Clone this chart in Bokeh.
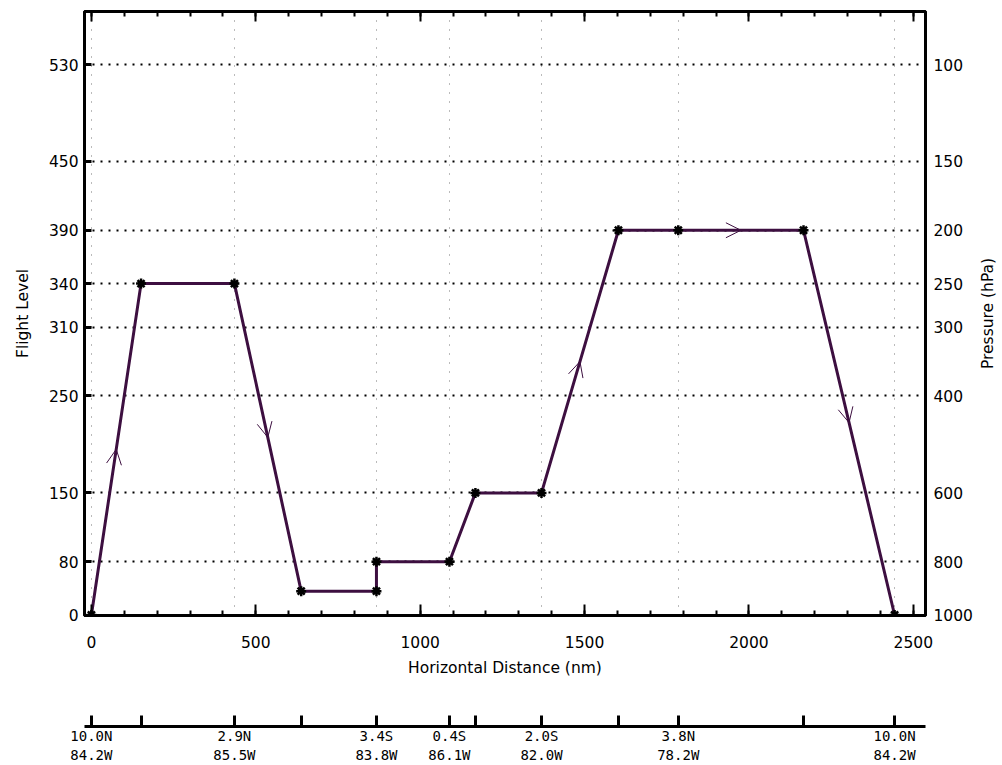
import math
from bokeh.plotting import figure
from bokeh.layouts import column, row
from bokeh.models import (Range1d, LinearAxis, LogAxis, FixedTicker, SingleIntervalTicker,
                          ColumnDataSource, Arrow, OpenHead, PrintfTickFormatter)
from bokeh.embed import file_html
from bokeh.resources import INLINE

# ---------------- data ----------------
# flight path waypoints: distance (nm), flight level, pressure level (hPa)
dist_nm = [0, 151, 435, 638, 867, 867, 1089, 1168, 1369, 1603, 1785, 2166, 2443]
flight_level = [0, 340, 340, 30, 30, 80, 80, 150, 150, 390, 390, 390, 0]
pressure_hpa = [1000, 250, 250, 905, 905, 800, 800, 600, 600, 200, 200, 200, 1000]
# segments (start index) that carry a direction arrow
arrow_segments = [0, 2, 8, 10, 11]

# vertical axis ticks: flight level labels and matching pressure levels
fl_tick_labels = ["0", "80", "150", "250", "310", "340", "390", "450", "530"]
pressure_ticks = [1000, 800, 600, 400, 300, 250, 200, 150, 100]

# waypoint axis (lat / lon)
wp_dist = [0, 151, 435, 638, 867, 1089, 1168, 1369, 1603, 1785, 2166, 2443]
labeled_dist = [0, 435, 867, 1089, 1369, 1785, 2443]
labeled_lat = ["10.0N", "2.9N", "3.4S", "0.4S", "2.0S", "3.8N", "10.0N"]
labeled_lon = ["84.2W", "85.5W", "83.8W", "86.1W", "82.0W", "78.2W", "84.2W"]

FONT = "DejaVu Sans"
MONO = "DejaVu Sans Mono"
FS = "15.5px"
PATH = "#3d0f40"

xr = Range1d(-21, 2537)
yr = Range1d(1002, 80.1)
p = figure(frame_width=841, frame_height=604,
           x_range=xr, y_range=yr,
           y_axis_type="log", output_backend="svg", toolbar_location=None,
           min_border_left=84, min_border_top=11, min_border_right=48,
           min_border_bottom=70, background_fill_color="white",
           border_fill_color="white")
p.outline_line_color = "black"
p.outline_line_width = 3

# ---- left axis (flight level) ----
ya = p.yaxis[0]
yt = FixedTicker(ticks=pressure_ticks, minor_ticks=[])
ya.ticker = yt
ya.major_label_overrides = {pr: lab for pr, lab in zip(pressure_ticks, fl_tick_labels)}
ya.major_tick_in = 7
ya.major_tick_out = 0
ya.minor_tick_in = 0
ya.minor_tick_out = 0
ya.major_tick_line_width = 3
ya.axis_line_width = 3
ya.major_label_standoff = 6
ya.major_label_text_font = FONT
ya.major_label_text_font_size = FS
ya.major_label_text_color = "black"
ya.axis_label = "Flight Level"
ya.axis_label_standoff = 14
ya.axis_label_text_font = FONT
ya.axis_label_text_font_size = FS
ya.axis_label_text_font_style = "normal"
ya.axis_label_text_color = "black"

# ---- right axis (pressure tick labels) ----
ra = LogAxis(ticker=FixedTicker(ticks=pressure_ticks, minor_ticks=[]),
             formatter=PrintfTickFormatter(format="%d"),
             major_tick_in=0, major_tick_out=0, minor_tick_in=0, minor_tick_out=0,
             axis_line_width=3, major_label_standoff=8,
             major_label_text_font=FONT, major_label_text_font_size=FS,
             major_label_text_color="black")
p.add_layout(ra, "right")

# ---- bottom axis (distance) ----
xticker = SingleIntervalTicker(interval=500, num_minor_ticks=5)
xa = p.xaxis[0]
xa.ticker = xticker
xa.major_tick_in = 11
xa.major_tick_out = 0
xa.minor_tick_in = 5
xa.minor_tick_out = 0
xa.major_tick_line_width = 2
xa.minor_tick_line_width = 2
xa.axis_line_width = 3
xa.major_label_standoff = 20
xa.major_label_text_font = FONT
xa.major_label_text_font_size = FS
xa.major_label_text_color = "black"
xa.axis_label = "Horizontal Distance (nm)"
xa.axis_label_standoff = 8
xa.axis_label_text_font = FONT
xa.axis_label_text_font_size = FS
xa.axis_label_text_font_style = "normal"
xa.axis_label_text_color = "black"

# ---- top axis (ticks only) ----
ta = LinearAxis(ticker=xticker, major_tick_in=10, major_tick_out=0,
                minor_tick_in=5, minor_tick_out=0, major_tick_line_width=2,
                minor_tick_line_width=2, axis_line_width=3,
                major_label_text_color=None, major_label_standoff=0)
p.add_layout(ta, "above")

# ---- grids ----
p.ygrid.ticker = yt
p.ygrid.grid_line_color = "black"
p.ygrid.grid_line_width = 2
p.ygrid.grid_line_dash = "2 6"
p.xgrid.ticker = FixedTicker(ticks=labeled_dist, minor_ticks=[])
p.xgrid.grid_line_color = "#777777"
p.xgrid.grid_line_width = 1
p.xgrid.grid_line_dash = "1 8"

# ---- flight path ----
src = ColumnDataSource(dict(x=dist_nm, p=pressure_hpa, fl=flight_level))
p.line("x", "p", source=src, line_color=PATH, line_width=3)
p.scatter("x", "p", source=src, marker="asterisk", size=10, line_color="black",
          line_width=2.5)

# direction arrows at the (screen) middle of chosen segments
xs = [dist_nm[i] for i in arrow_segments]
ys = [pressure_hpa[i] for i in arrow_segments]
xe = [(dist_nm[i] + dist_nm[i + 1]) / 2 for i in arrow_segments]
ye = [math.sqrt(pressure_hpa[i] * pressure_hpa[i + 1]) for i in arrow_segments]
asrc = ColumnDataSource(dict(xs=xs, ys=ys, xe=xe, ye=ye))
p.add_layout(Arrow(source=asrc, x_start="xs", y_start="ys", x_end="xe", y_end="ye",
                   line_alpha=0,
                   end=OpenHead(size=15, line_color=PATH, line_width=1)))

# ---- waypoint (lat/lon) axis in a strip below ----
p2 = figure(frame_width=841, frame_height=1, x_range=xr, y_range=Range1d(0, 1),
            output_backend="svg", toolbar_location=None,
            min_border_left=84, min_border_top=40, min_border_right=48,
            min_border_bottom=0, background_fill_color="white",
            border_fill_color="white")
p2.outline_line_color = None
p2.grid.visible = False
p2.yaxis.visible = False
wp_labels = {d: "" for d in wp_dist}
for d, la, lo in zip(labeled_dist, labeled_lat, labeled_lon):
    wp_labels[d] = la + "\n" + lo
wa = p2.xaxis[0]
wa.ticker = FixedTicker(ticks=wp_dist, minor_ticks=[])
wa.major_label_overrides = wp_labels
wa.major_tick_in = 11
wa.major_tick_out = 0
wa.minor_tick_in = 0
wa.minor_tick_out = 0
wa.major_tick_line_width = 3
wa.axis_line_width = 3
wa.major_label_standoff = 1
wa.major_label_text_font = MONO
wa.major_label_text_font_size = "14px"
wa.major_label_text_color = "black"
wa.major_label_text_line_height = 1.2

# ---- narrow strip on the right carrying the pressure axis title ----
p3 = figure(frame_width=1, frame_height=604, x_range=Range1d(0, 1), y_range=yr,
            y_axis_type="log", output_backend="svg", toolbar_location=None,
            min_border_left=22, min_border_top=11, min_border_right=0,
            min_border_bottom=0, background_fill_color="white",
            border_fill_color="white")
p3.outline_line_color = None
p3.grid.visible = False
p3.xaxis.visible = False
pa = p3.yaxis[0]
pa.ticker = FixedTicker(ticks=[], minor_ticks=[])
pa.axis_line_color = None
pa.major_tick_in = 0
pa.major_tick_out = 0
pa.minor_tick_in = 0
pa.minor_tick_out = 0
pa.axis_label = "Pressure (hPa)"
pa.axis_label_standoff = 1
pa.axis_label_text_font = FONT
pa.axis_label_text_font_size = FS
pa.axis_label_text_font_style = "normal"
pa.axis_label_text_color = "black"

layout = row(column(p, p2, spacing=0), p3, spacing=0)
open("out.html", "w").write(file_html(layout, INLINE))
